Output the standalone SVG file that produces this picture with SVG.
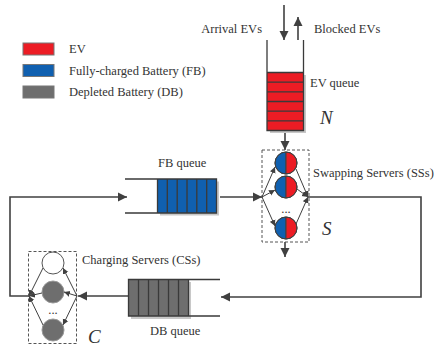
<svg xmlns="http://www.w3.org/2000/svg" width="443" height="349" viewBox="0 0 443 349">
<defs>
<style>
.t{font-family:"Liberation Serif","Times New Roman",serif;font-size:12.5px;fill:#333}
.v{font-family:"Liberation Serif","Times New Roman",serif;font-size:19px;font-style:italic;fill:#333}
.ln{stroke:#404040;stroke-width:1.6;fill:none}
.fan{stroke:#404040;stroke-width:1;fill:none}
.box{stroke:#555;stroke-width:1;fill:none;stroke-dasharray:3,2}
.red{fill:#EC1C24}
.blue{fill:#1060B0}
.gray{fill:#6E6E6E}
.slot{stroke:#3a3a3a;stroke-width:1.3}
.sh{fill:#c8c8c8}
</style>
<marker id="ah" markerWidth="10" markerHeight="10" refX="9" refY="5" orient="auto" markerUnits="userSpaceOnUse">
<path d="M0,0.5 L9,5 L0,9.5 Z" fill="#404040"/>
</marker>
<marker id="as" markerWidth="7" markerHeight="7" refX="6" refY="3.5" orient="auto" markerUnits="userSpaceOnUse">
<path d="M0,0.5 L6,3.5 L0,6.5 Z" fill="#404040"/>
</marker>
</defs>

<g id="legend">
<rect x="23" y="43" width="31" height="12" class="red" stroke="#777" stroke-width="1"/>
<rect x="23" y="64.5" width="31" height="12" class="blue" stroke="#777" stroke-width="1"/>
<rect x="23" y="86" width="31" height="12" class="gray" stroke="#777" stroke-width="1"/>
<text class="t" x="69" y="53">EV</text>
<text class="t" x="69" y="75">Fully-charged Battery (FB)</text>
<text class="t" x="69" y="96">Depleted Battery (DB)</text>
</g>

<g id="connectors">
<line class="ln" x1="284" y1="5" x2="284" y2="40" marker-end="url(#ah)"/>
<line class="ln" x1="298" y1="40" x2="298" y2="17" marker-end="url(#ah)"/>
<line class="ln" x1="285" y1="131" x2="285" y2="150" marker-end="url(#ah)"/>
<line class="ln" x1="220" y1="197" x2="262" y2="197" marker-end="url(#ah)"/>
<polyline class="ln" points="308,197 421,197 421,297 221,297" marker-end="url(#ah)"/>
<line class="ln" x1="285" y1="242" x2="285" y2="257" marker-end="url(#ah)"/>
<line class="ln" x1="128" y1="296" x2="78" y2="296" marker-end="url(#ah)"/>
<polyline class="ln" points="29,296 10,296 10,197 127,197" marker-end="url(#ah)"/>
</g>

<g id="ev-queue">
<rect x="270" y="75" width="36" height="58" class="sh"/>
<rect x="267" y="72.5" width="36.5" height="58" class="red"/>
<path class="slot" fill="none" d="M267,40 V130.5 H303.5 V40 M267,72.5 H303.5 M267,82.2 H303.5 M267,91.8 H303.5 M267,101.5 H303.5 M267,111.2 H303.5 M267,120.8 H303.5"/>
<text class="t" x="310" y="87">EV queue</text>
<text class="v" x="320" y="124">N</text>
</g>

<g id="arrival-label"><text class="t" x="262" y="33" text-anchor="end">Arrival EVs</text></g>
<g id="blocked-label"><text class="t" x="314" y="33">Blocked EVs</text></g>

<g id="fb-queue">
<rect x="160" y="181.5" width="59" height="34" class="sh"/>
<rect x="157.5" y="179" width="59" height="34" class="blue"/>
<path class="slot" fill="none" d="M125,179 H216.5 V213 H125 M157.5,179 V213 M167.3,179 V213 M177.2,179 V213 M187,179 V213 M196.8,179 V213 M206.7,179 V213"/>
<text class="t" x="158" y="167">FB queue</text>
</g>

<g id="swapping-servers">
<rect class="box" x="262" y="150" width="47" height="92"/>
<g stroke="#404040" stroke-width="1">
<path d="M286,152 A11,11 0 0,0 286,174 Z" class="blue"/>
<path d="M286,152 A11,11 0 0,1 286,174 Z" class="red"/>
<circle cx="286" cy="163" r="11" fill="none"/>
<path d="M286,176 A11,11 0 0,0 286,198 Z" class="blue"/>
<path d="M286,176 A11,11 0 0,1 286,198 Z" class="red"/>
<circle cx="286" cy="187" r="11" fill="none"/>
<path d="M286,217 A11,11 0 0,0 286,239 Z" class="blue"/>
<path d="M286,217 A11,11 0 0,1 286,239 Z" class="red"/>
<circle cx="286" cy="228" r="11" fill="none"/>
</g>
<text class="t" x="286" y="213" text-anchor="middle">...</text>
<line class="fan" x1="262" y1="197" x2="275" y2="167" marker-end="url(#as)"/>
<line class="fan" x1="262" y1="197" x2="275" y2="190" marker-end="url(#as)"/>
<line class="fan" x1="262" y1="197" x2="275" y2="226" marker-end="url(#as)"/>
<line class="fan" x1="296" y1="169" x2="308" y2="197" marker-end="url(#as)"/>
<line class="fan" x1="297" y1="189" x2="308" y2="197" marker-end="url(#as)"/>
<line class="fan" x1="296" y1="224" x2="308" y2="197" marker-end="url(#as)"/>
<text class="t" x="313" y="177">Swapping Servers (SSs)</text>
<text class="v" x="322" y="235">S</text>
</g>

<g id="db-queue">
<rect x="131" y="282" width="60" height="37" class="sh"/>
<rect x="128.5" y="279.5" width="60" height="36.5" class="gray"/>
<path class="slot" fill="none" d="M220,279.5 H128.5 V316 H220 M188.5,279.5 V316 M138.5,279.5 V316 M148.5,279.5 V316 M158.5,279.5 V316 M168.5,279.5 V316 M178.5,279.5 V316"/>
<text class="t" x="150" y="335">DB queue</text>
</g>

<g id="charging-servers">
<rect class="box" x="28.5" y="251.5" width="48" height="92"/>
<circle cx="53" cy="263" r="11" fill="#fff" stroke="#555" stroke-width="1"/>
<circle cx="53" cy="292" r="11" class="gray" stroke="#999" stroke-width="1"/>
<circle cx="53" cy="330" r="11" class="gray" stroke="#999" stroke-width="1"/>
<text class="t" x="53" y="314" text-anchor="middle">...</text>
<line class="fan" x1="77" y1="296" x2="63" y2="268" marker-end="url(#as)"/>
<line class="fan" x1="77" y1="296" x2="64" y2="292" marker-end="url(#as)"/>
<line class="fan" x1="77" y1="296" x2="63" y2="325" marker-end="url(#as)"/>
<line class="fan" x1="43" y1="268" x2="29" y2="296" marker-end="url(#as)"/>
<line class="fan" x1="42" y1="293" x2="29" y2="296" marker-end="url(#as)"/>
<line class="fan" x1="43" y1="325" x2="29" y2="296" marker-end="url(#as)"/>
<text class="t" x="82" y="264">Charging Servers (CSs)</text>
<text class="v" x="88" y="343">C</text>
</g>
</svg>
